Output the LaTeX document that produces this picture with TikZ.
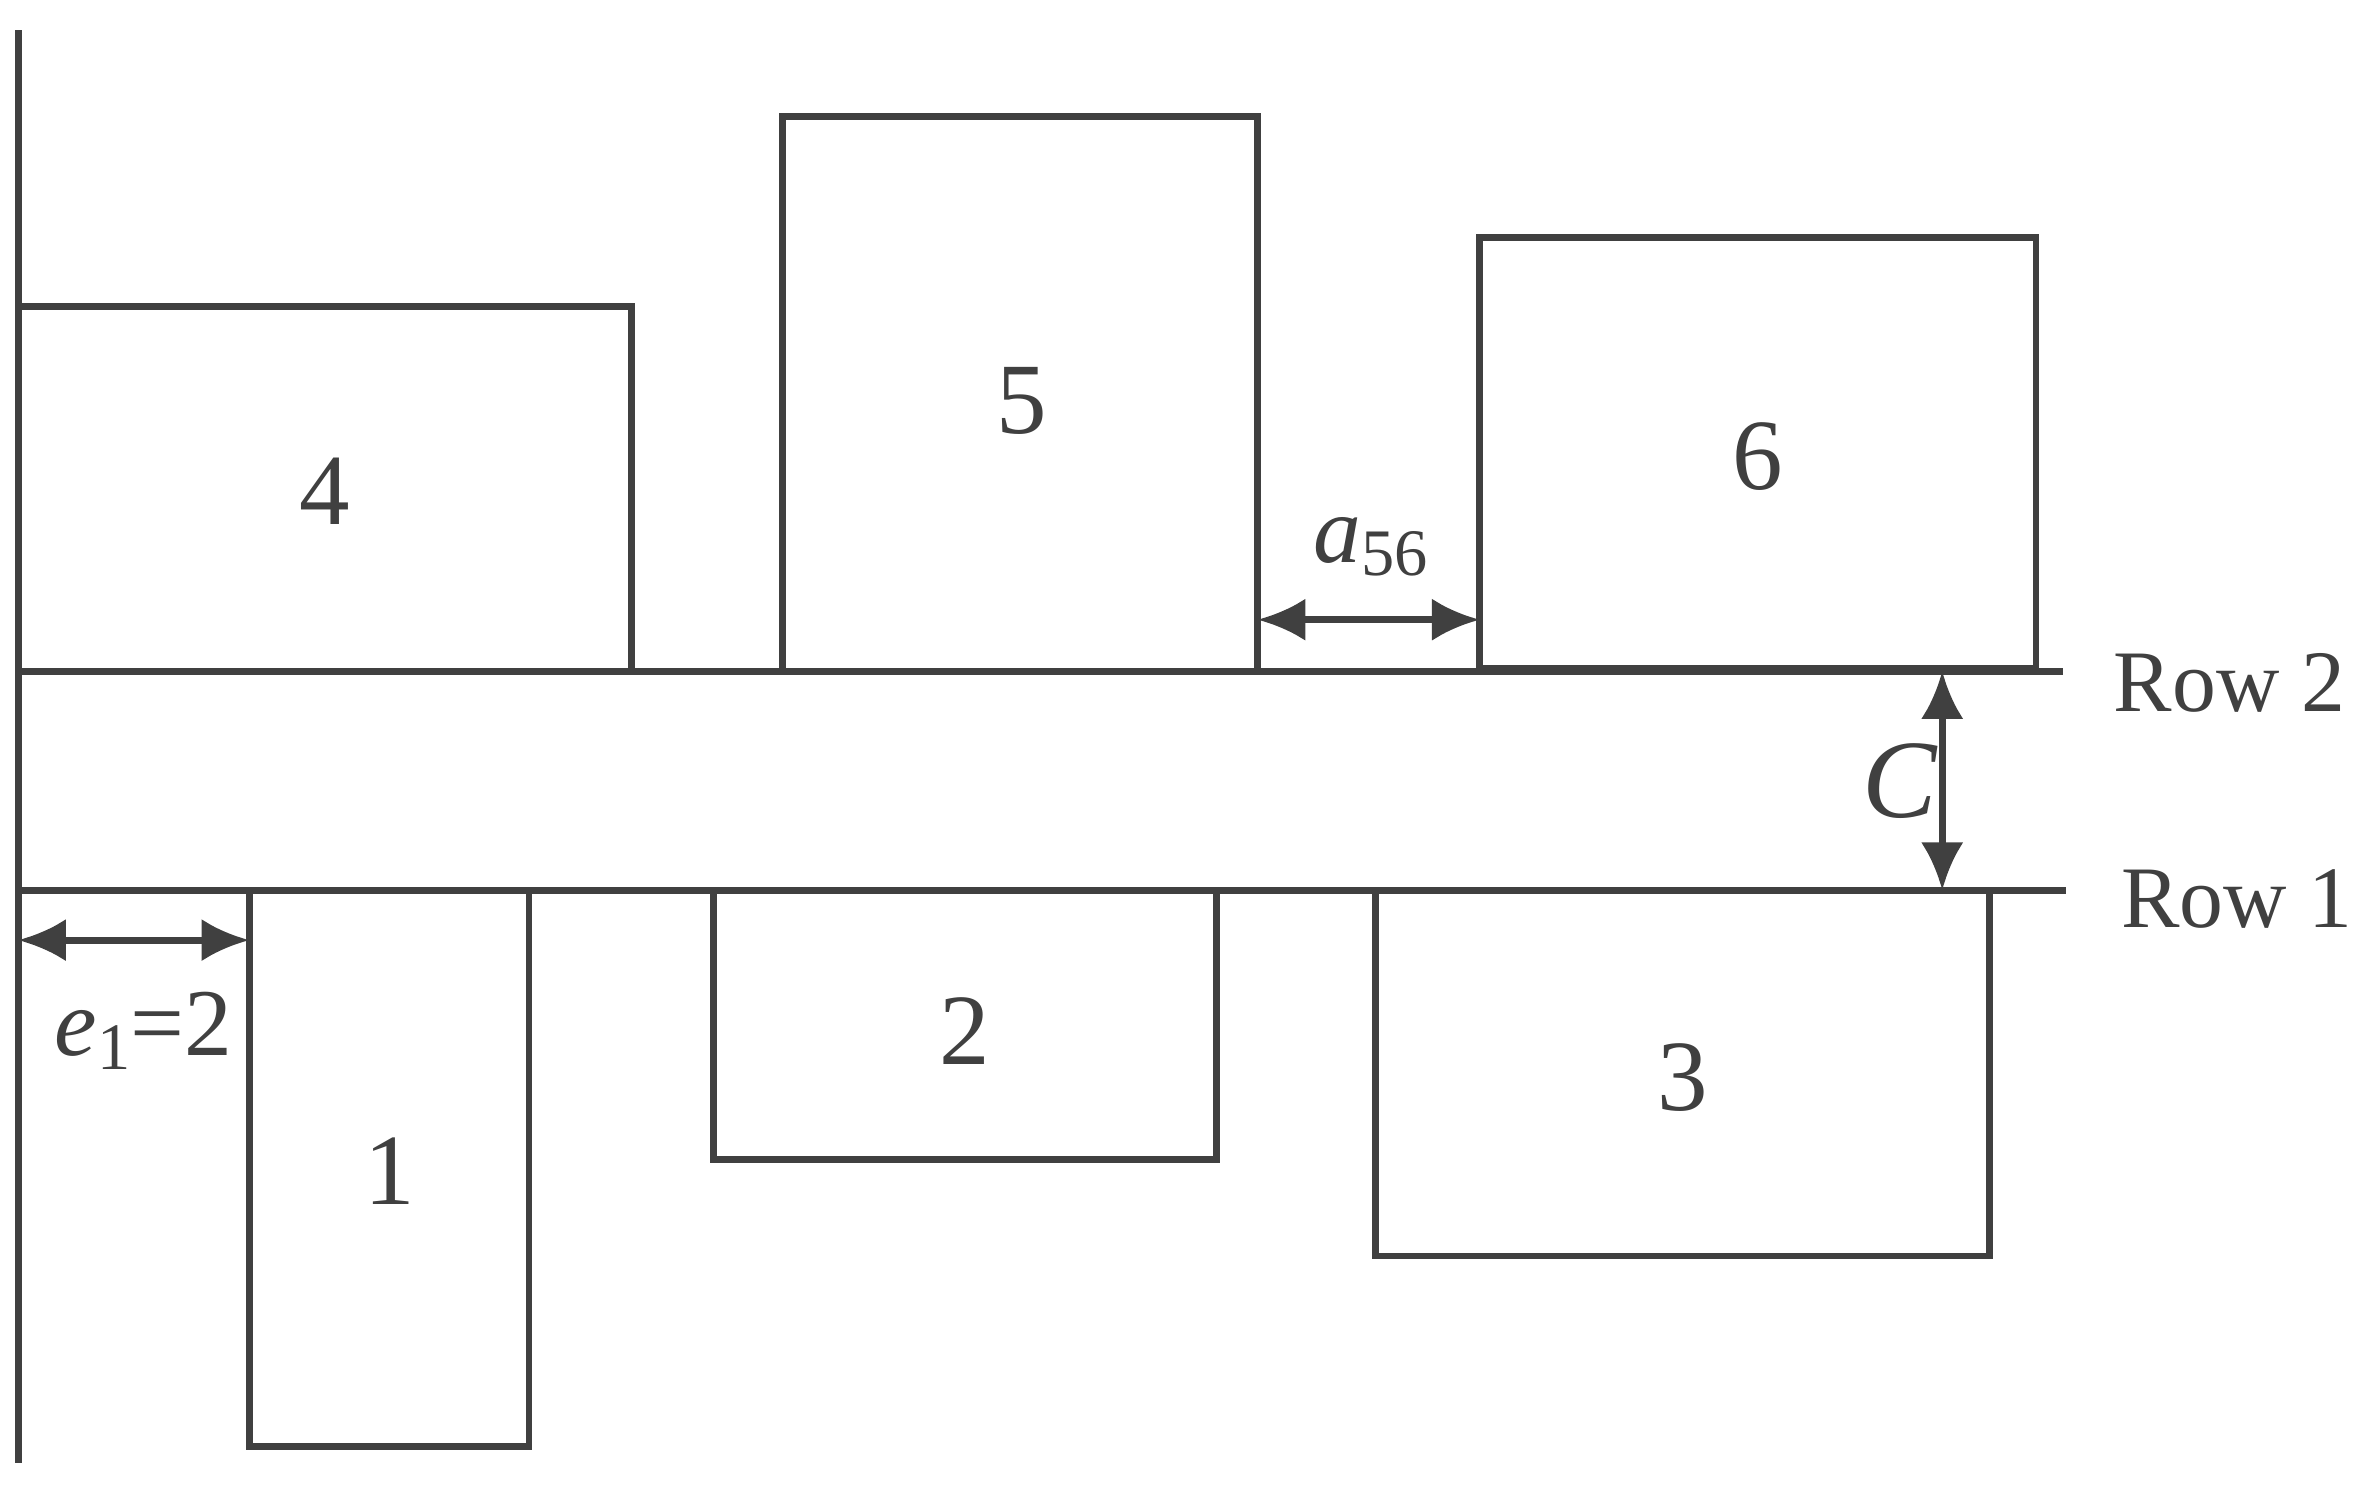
\documentclass[tikz,border=0pt]{standalone}
\usepackage{fontspec}
\setmainfont{Liberation Serif}
\usetikzlibrary{arrows.meta}
\definecolor{ink}{HTML}{404040}
\begin{document}
\begin{tikzpicture}[x=0.01cm,y=-0.01cm,
  ln/.style={draw=ink,line width=1.3pt},
  dim/.style={draw=ink,line width=1.3pt,{Latex[length=9pt,width=8pt]}-{Latex[length=9pt,width=8pt]}},
  num/.style={text=ink,font=\fontsize{19}{19}\selectfont},
  lbl/.style={text=ink,font=\fontsize{16.5}{16.5}\selectfont}]
\useasboundingbox (0,0) rectangle (1568,982);
\draw[ln] (12,20) -- (12,968);
\draw[ln] (12,444) -- (1365,444);
\draw[ln] (12,589) -- (1367,589);
\draw[ln] (12,203) rectangle (418,444);
\draw[ln] (518,77) rectangle (832,444);
\draw[ln] (979,157) rectangle (1347,442);
\draw[ln] (165,589) rectangle (350,957);
\draw[ln] (472,589) rectangle (805,767);
\draw[ln] (910,589) rectangle (1316,831);
\node[num] (n4) at (215,325) {4};
\node[num] (n5) at (676,265) {5};
\node[num] (n6) at (1163,302) {6};
\node[num] (n1) at (258,775) {1};
\node[num] (n2) at (638,682) {2};
\node[num] (n3) at (1113,713) {3};
\coordinate (a1) at (832,410); \coordinate (a2) at (979,410);
\draw[dim] (a1) -- (a2);
\node[lbl] (la) at (907,362) {\fontsize{18}{18}\selectfont\itshape a\raisebox{-0.3ex}{\upshape\fontsize{12.5}{12.5}\selectfont 56}};
\coordinate (c1) at (1285,444); \coordinate (c2) at (1285,589);
\draw[dim] (c1) -- (c2);
\node[lbl] (lc) at (1257,517) {\fontsize{21}{21}\selectfont\itshape C};
\coordinate (e1) at (12,622); \coordinate (e2) at (165,622);
\draw[dim] (e1) -- (e2);
\node[lbl] (le) at (95,682) {\fontsize{18}{18}\selectfont\itshape e\raisebox{-0.3ex}{\upshape\fontsize{12.5}{12.5}\selectfont 1}\upshape =2};
\node[lbl] (r2) at (1475,452) {Row 2};
\node[lbl] (r1) at (1480,595) {Row 1};
\end{tikzpicture}
\end{document}
